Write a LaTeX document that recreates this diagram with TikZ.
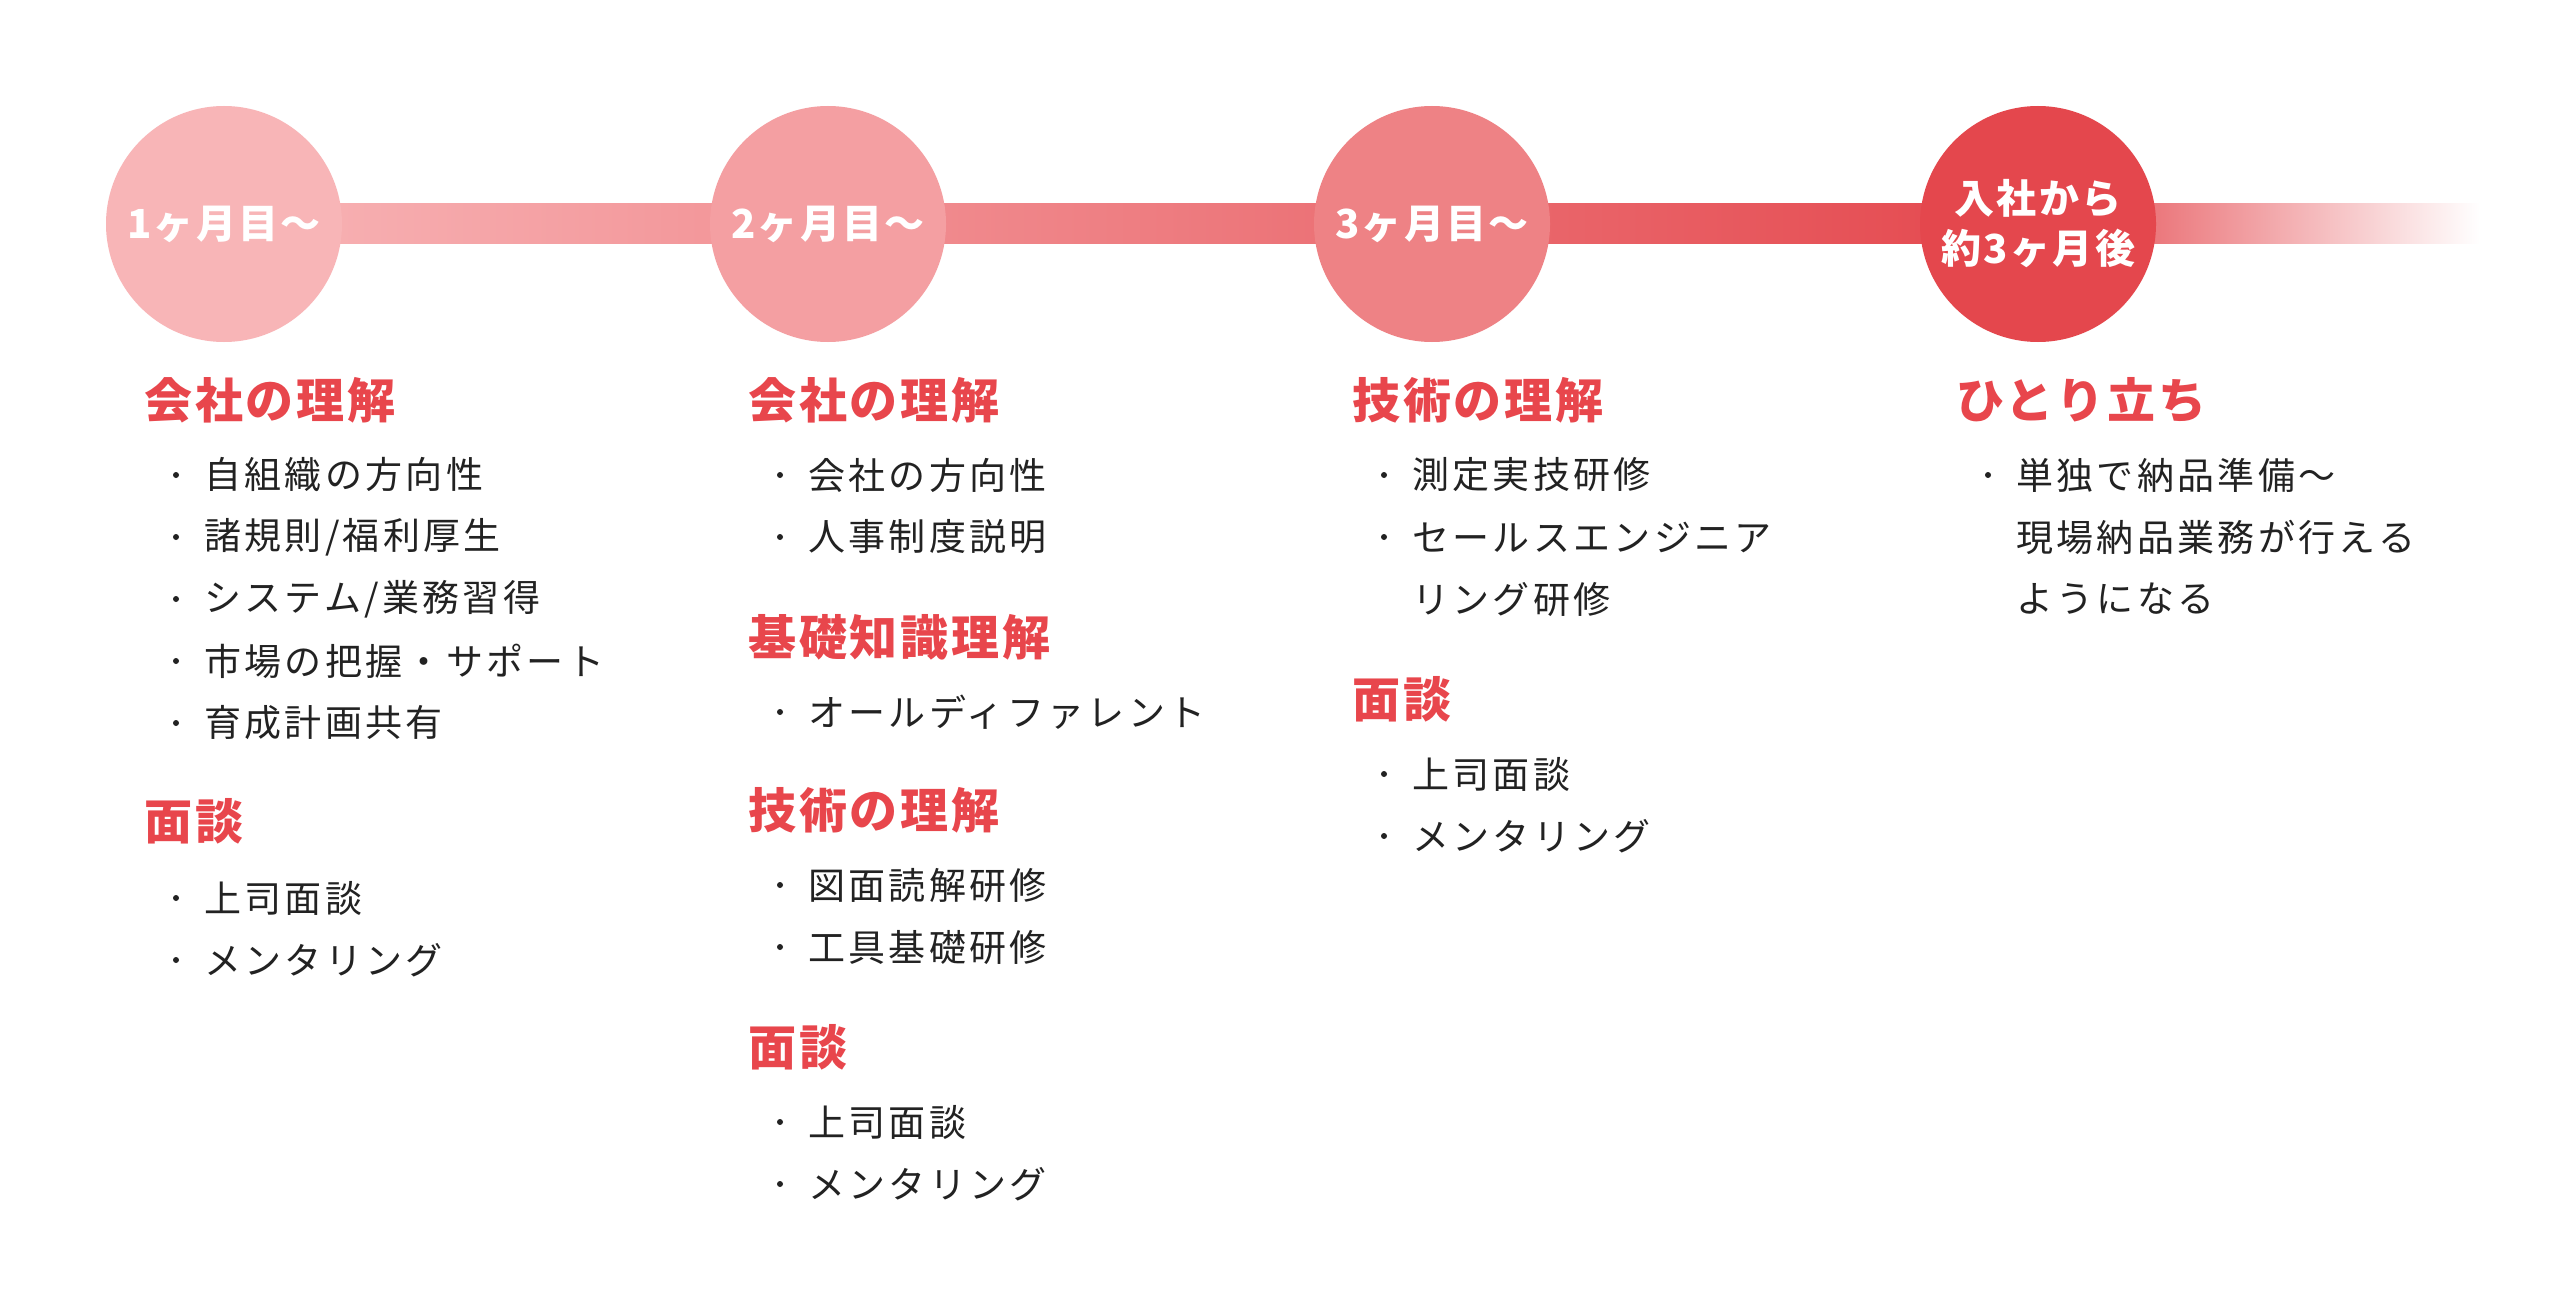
\documentclass[tikz,border=0pt]{standalone}
\usepackage{fontspec}
\setmainfont{Noto Sans CJK JP}
\newfontfamily\spc{Noto Sans CJK JP}[LetterSpace=9]
\newfontfamily\spch{Noto Sans CJK JP}[LetterSpace=6]
\begin{document}
\begin{tikzpicture}[x=1pt,y=-1pt]
\definecolor{cA}{HTML}{F8B5B7}
\definecolor{cB}{HTML}{F49FA2}
\definecolor{cC}{HTML}{EE8285}
\definecolor{cD}{HTML}{E4474D}
\definecolor{hd}{HTML}{E8464C}
\definecolor{tx}{HTML}{222222}
\tikzset{
 circ/.style={circle,minimum size=236pt,inner sep=0pt,text=white,font=\spch\fontsize{40}{50}\selectfont\bfseries,align=center},
 head/.style={anchor=west,inner sep=0pt,text=hd,font=\spch\fontsize{48}{56}\selectfont\bfseries},
 item/.style={anchor=west,inner sep=0pt,text=tx,font=\spc\fontsize{37}{44}\selectfont},
 dot/.style={circle,fill=tx,inner sep=0pt,minimum size=6pt},
}
\useasboundingbox (0,0) rectangle (2560,1316);
\fill[white] (0,0) rectangle (2560,1316);
\shade[left color=cA,right color=cD] (224,204) rectangle (2038,244);
\shade[left color=cD,right color=white] (2038,204) rectangle (2480,244);
\node[circ,fill=cA] (c1) at (224,224) {1ヶ月目〜};
\node[circ,fill=cB] (c2) at (828,224) {2ヶ月目〜};
\node[circ,fill=cC] (c3) at (1432,224) {3ヶ月目〜};
\node[circ,fill=cD] (c4) at (2038,224) {入社から\\約3ヶ月後};
\def\bx{176}\def\tx{204}
% column 1
\node[head] (h11) at (144,400) {会社の理解};
\foreach \y/\t [count=\i] in {475/{自組織の方向性},537/{諸規則/福利厚生},599/{システム/業務習得},661/{市場の把握・サポート},723/{育成計画共有}}{
 \node[item] (b1\i) at (\tx,\y) {\t}; \node[dot] (d1\i) at (\bx,\y) {};}
\node[head] (h12) at (144,821) {面談};
\foreach \y/\t [count=\i] in {898/上司面談,960/メンタリング}{
 \node[item] (e1\i) at (\tx,\y) {\t}; \node[dot] (f1\i) at (\bx,\y) {};}
% column 2
\begin{scope}[xshift=604]
\node[head] (h21) at (144,400) {会社の理解};
\foreach \y/\t [count=\i] in {475/会社の方向性,537/人事制度説明}{
 \node[item] (b2\i) at (\tx,\y) {\t}; \node[dot] (d2\i) at (\bx,\y) {};}
\node[head] (h22) at (144,637) {基礎知識理解};
\node[item] (b26) at (\tx,712) {オールディファレント}; \node[dot] (d26) at (\bx,712) {};
\node[head] (h23) at (144,810) {技術の理解};
\foreach \y/\t [count=\i] in {885/図面読解研修,947/工具基礎研修}{
 \node[item] (e2\i) at (\tx,\y) {\t}; \node[dot] (f2\i) at (\bx,\y) {};}
\node[head] (h24) at (144,1047) {面談};
\foreach \y/\t [count=\i] in {1122/上司面談,1184/メンタリング}{
 \node[item] (g2\i) at (\tx,\y) {\t}; \node[dot] (k2\i) at (\bx,\y) {};}
\end{scope}
% column 3
\begin{scope}[xshift=1208]
\node[head] (h31) at (144,400) {技術の理解};
\node[item] (b31) at (\tx,475) {測定実技研修}; \node[dot] (d31) at (\bx,475) {};
\node[item] (b32) at (\tx,537) {セールスエンジニア}; \node[dot] (d32) at (\bx,537) {};
\node[item] (b33) at (\tx,599) {リング研修};
\node[head] (h32) at (144,699) {面談};
\foreach \y/\t [count=\i] in {774/上司面談,836/メンタリング}{
 \node[item] (e3\i) at (\tx,\y) {\t}; \node[dot] (f3\i) at (\bx,\y) {};}
\end{scope}
% column 4
\begin{scope}[xshift=1812]
\node[head] (h41) at (144,400) {ひとり立ち};
\node[item] (b41) at (\tx,475) {単独で納品準備〜}; \node[dot] (d41) at (\bx,475) {};
\node[item] (b42) at (\tx,537) {現場納品業務が行える};
\node[item] (b43) at (\tx,599) {ようになる};
\end{scope}
\end{tikzpicture}
\end{document}
